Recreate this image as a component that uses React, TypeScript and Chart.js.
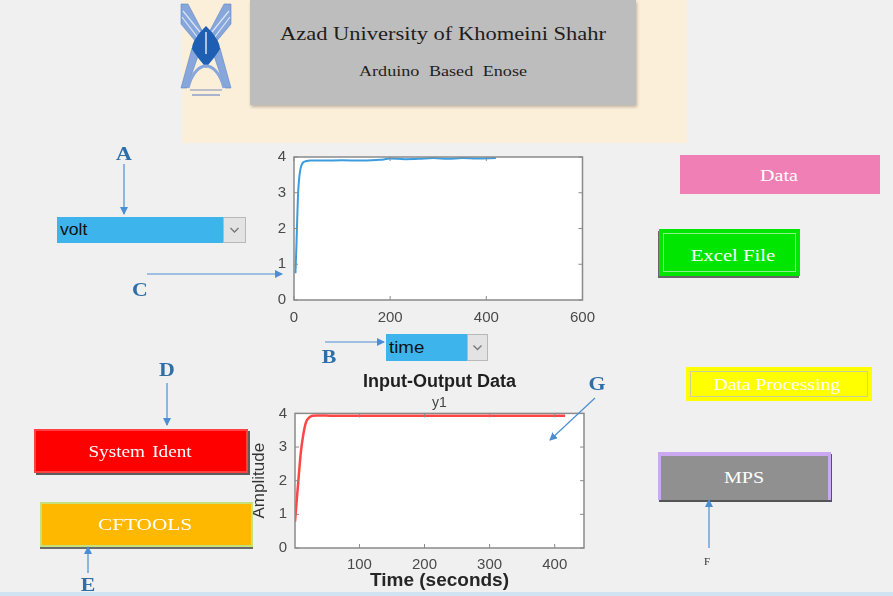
import React, { useEffect, useRef } from "react";
import { Chart, registerables } from "chart.js";

Chart.register(...registerables);

// ---- data ----
const VOLT_TIME = [3, 5, 7, 9, 12, 15, 19, 24, 35, 60, 100, 140, 180, 200, 230, 260, 290, 320, 350, 380, 420];
const VOLT_VALUES = [0.75, 1.5, 2.4, 3.1, 3.55, 3.75, 3.85, 3.88, 3.9, 3.9, 3.91, 3.9, 3.92, 3.96, 3.94, 3.95, 3.97, 3.95, 3.97, 3.96, 3.97];
const VOLT_X_TICKS = [0, 200, 400, 600];
const Y_TICKS = [0, 1, 2, 3, 4];

const IO_TIME = [1, 4, 7, 10, 14, 18, 23, 28, 35, 60, 100, 200, 300, 400, 416];
const IO_Y1 = [0.78, 1.5, 2.2, 2.85, 3.4, 3.74, 3.88, 3.93, 3.94, 3.93, 3.93, 3.93, 3.93, 3.93, 3.93];
const IO_X_TICKS = [100, 200, 300, 400];

const FONT = "'Liberation Sans', Arial, Helvetica, sans-serif";
const SERIF = "'Liberation Serif', 'Times New Roman', serif";
const TICK_COLOR = "#4a4a4a";

const boxPlugin = {
  id: "matlabBox",
  beforeDatasetsDraw(chart: any) {
    const { ctx, chartArea: a } = chart;
    ctx.save();
    ctx.fillStyle = "#ffffff";
    ctx.fillRect(a.left, a.top, a.right - a.left, a.bottom - a.top);
    ctx.restore();
  },
  afterDatasetsDraw(chart: any) {
    const { ctx, chartArea: a, scales } = chart;
    ctx.save();
    ctx.strokeStyle = "#8a8a8a";
    ctx.lineWidth = 1.5;
    ctx.strokeRect(a.left, a.top, a.right - a.left, a.bottom - a.top);
    ctx.lineWidth = 1;
    const L = 4;
    ctx.beginPath();
    scales.x.ticks.forEach((t: any) => {
      const x = scales.x.getPixelForValue(t.value);
      ctx.moveTo(x, a.bottom);
      ctx.lineTo(x, a.bottom - L);
      ctx.moveTo(x, a.top);
      ctx.lineTo(x, a.top + L);
    });
    scales.y.ticks.forEach((t: any) => {
      const y = scales.y.getPixelForValue(t.value);
      ctx.moveTo(a.left, y);
      ctx.lineTo(a.left + L, y);
      ctx.moveTo(a.right, y);
      ctx.lineTo(a.right - L, y);
    });
    ctx.stroke();
    ctx.restore();
  },
};

function axisBase(ticks: number[], min: number, max: number, pad: number, fit: (s: any) => void) {
  return {
    type: "linear" as const,
    min,
    max,
    afterBuildTicks: (s: any) => {
      s.ticks = ticks.map((v) => ({ value: v }));
    },
    afterFit: fit,
    grid: { display: false, drawTicks: false, tickLength: 0 },
    border: { display: false },
    ticks: { padding: pad, font: { size: 15, family: FONT }, color: TICK_COLOR, maxRotation: 0, autoSkip: false },
  };
}

function VoltChart() {
  const ref = useRef<HTMLCanvasElement>(null);
  useEffect(() => {
    const chart = new Chart(ref.current as HTMLCanvasElement, {
      type: "line",
      data: {
        datasets: [
          {
            data: VOLT_TIME.map((t, i) => ({ x: t, y: VOLT_VALUES[i] })),
            borderColor: "#3d9ddc",
            borderWidth: 2,
            pointRadius: 0,
            cubicInterpolationMode: "monotone",
            fill: false,
          },
        ],
      },
      options: {
        animation: false,
        responsive: false,
        maintainAspectRatio: false,
        devicePixelRatio: 1,
        layout: { padding: { top: 15, right: 19, left: 0, bottom: 0 } },
        plugins: { legend: { display: false }, tooltip: { enabled: false } },
        scales: {
          x: axisBase(VOLT_X_TICKS, 0, 600, 9, (s: any) => { s.height = 30; }),
          y: axisBase(Y_TICKS, 0, 4, 8, (s: any) => { s.width = 30; }),
        },
      } as any,
      plugins: [boxPlugin],
    });
    return () => chart.destroy();
  }, []);
  return (
    <canvas ref={ref} width={340} height={190} style={{ position: "absolute", left: 264, top: 140, width: 340, height: 190 }} />
  );
}

function IOChart() {
  const ref = useRef<HTMLCanvasElement>(null);
  useEffect(() => {
    const x: any = axisBase(IO_X_TICKS, 1, 445, 8, (s: any) => { s.height = 48; });
    x.title = { display: true, text: "Time (seconds)", font: { size: 19, weight: "bold", family: FONT }, color: "#262626", padding: { top: 0, bottom: 4 } };
    const y: any = axisBase(Y_TICKS, 0, 4, 8, (s: any) => { s.width = 50; });
    y.title = { display: true, text: "Amplitude", font: { size: 17, family: FONT }, color: "#333333", padding: { top: 4, bottom: 0 } };
    const chart = new Chart(ref.current as HTMLCanvasElement, {
      type: "line",
      data: {
        datasets: [
          {
            data: IO_TIME.map((t, i) => ({ x: t, y: IO_Y1[i] })),
            borderColor: "#ff4646",
            borderWidth: 2.5,
            pointRadius: 0,
            cubicInterpolationMode: "monotone",
            fill: false,
          },
        ],
      },
      options: {
        animation: false,
        responsive: false,
        maintainAspectRatio: false,
        devicePixelRatio: 1,
        layout: { padding: { top: 0, right: 11, left: 0, bottom: 0 } },
        plugins: {
          legend: { display: false },
          tooltip: { enabled: false },
          title: {
            display: true,
            text: "Input-Output Data",
            fullSize: false,
            font: { size: 18, weight: "bold", family: FONT },
            color: "#1f1f1f",
            padding: { top: 3, bottom: 2 },
          },
          subtitle: {
            display: true,
            text: "y1",
            fullSize: false,
            font: { size: 14, family: FONT },
            color: "#444444",
            padding: { top: 0, bottom: 2 },
          },
        },
        scales: { x, y },
      } as any,
      plugins: [boxPlugin],
    });
    return () => chart.destroy();
  }, []);
  return (
    <canvas ref={ref} width={350} height={228} style={{ position: "absolute", left: 245, top: 368, width: 350, height: 228 }} />
  );
}

function Label(props: { x: number; y: number; text: string; size?: number; color?: string; bold?: boolean; sx?: number; family?: string; spacing?: string }) {
  const { x, y, text, size = 16, color = "#fff", bold = false, sx = 1.2, family = SERIF, spacing } = props;
  return (
    <div
      style={{
        position: "absolute",
        left: x,
        top: y,
        transform: `translate(-50%, -50%) scaleX(${sx})`,
        whiteSpace: "nowrap",
        fontFamily: family,
        fontSize: size,
        fontWeight: bold ? "bold" : "normal",
        color,
        lineHeight: 1,
        wordSpacing: spacing,
      }}
    >
      {text}
    </div>
  );
}

function Box(props: { l: number; t: number; w: number; h: number; style?: React.CSSProperties; children?: React.ReactNode }) {
  return (
    <div style={{ position: "absolute", left: props.l, top: props.t, width: props.w, height: props.h, boxSizing: "border-box", ...props.style }}>
      {props.children}
    </div>
  );
}

function Dropdown(props: { l: number; t: number; blueW: number; w: number; h: number; text: string; size: number }) {
  const { l, t, blueW, w, h, text, size } = props;
  return (
    <>
      <Box l={l} t={t} w={blueW} h={h} style={{ background: "#3db5ec" }}>
        <div style={{ position: "absolute", left: 3, top: 0, height: h, lineHeight: `${h}px`, fontFamily: FONT, fontSize: size, color: "#111", transform: "scaleX(1.1)", transformOrigin: "left" }}>
          {text}
        </div>
      </Box>
      <Box l={l + blueW} t={t} w={w - blueW} h={h} style={{ background: "#e3e3e3", border: "1px solid #b8b8b8" }}>
        <svg width={w - blueW - 2} height={h - 2} style={{ position: "absolute", left: 0, top: 0 }}>
          <polyline
            points={`${(w - blueW) / 2 - 5},${h / 2 - 3} ${(w - blueW) / 2 - 1},${h / 2 + 1} ${(w - blueW) / 2 + 3},${h / 2 - 3}`}
            fill="none"
            stroke="#777"
            strokeWidth={1.3}
          />
        </svg>
      </Box>
    </>
  );
}

function Logo() {
  return (
    <svg width={56} height={100} viewBox="0 0 56 100" style={{ position: "absolute", left: 178, top: 2 }}>
      <g fill="#86a6dc" stroke="#5f86c8" strokeWidth={0.6}>
        <polygon points="3,2 10,2 28,36 28,52 3,22" />
        <polygon points="53,2 46,2 28,36 28,52 53,22" />
        <polygon points="14,46 20,54 9,86 3,86" />
        <polygon points="42,46 36,54 47,86 53,86" />
      </g>
      <g stroke="#dce6f6" strokeWidth={1.2}>
        <line x1={5} y1={9} x2={22} y2={30} />
        <line x1={4} y1={15} x2={20} y2={36} />
        <line x1={51} y1={9} x2={34} y2={30} />
        <line x1={52} y1={15} x2={36} y2={36} />
      </g>
      <path d="M28,24 C36,32 42,40 42,47 C38,54 32,60 28,66 C24,60 18,54 14,47 C14,40 20,32 28,24 Z" fill="#1e5fb3" />
      <line x1={28} y1={30} x2={28} y2={52} stroke="#d8e4f5" strokeWidth={1.5} />
      <path d="M10,86 C14,70 22,64 28,64 C34,64 42,70 46,86" fill="none" stroke="#86a6dc" strokeWidth={3} />
      <line x1={12} y1={88} x2={44} y2={88} stroke="#7a8fb8" strokeWidth={1} />
      <line x1={14} y1={93} x2={42} y2={93} stroke="#8aa0c8" strokeWidth={1.5} />
    </svg>
  );
}

function Arrows() {
  const c = "#4a8fd4";
  const lines = [
    [124, 164, 124, 214],
    [147, 274, 282, 274],
    [325, 342, 384, 342],
    [167, 383, 167, 425],
    [88, 573, 88, 547],
    [595, 398, 550, 440],
    [709, 548, 709, 500],
  ];
  return (
    <svg width={893} height={596} style={{ position: "absolute", left: 0, top: 0, pointerEvents: "none" }}>
      <defs>
        <marker id="ah" markerWidth={8} markerHeight={8} refX={7} refY={4} orient="auto" markerUnits="userSpaceOnUse">
          <path d="M0,0 L8,4 L0,8 Z" fill={c} />
        </marker>
      </defs>
      {lines.map((l, i) => (
        <line key={i} x1={l[0]} y1={l[1]} x2={l[2]} y2={l[3]} stroke={c} strokeWidth={1.2} markerEnd="url(#ah)" />
      ))}
    </svg>
  );
}

export default function App() {
  const letter = (x: number, y: number, t: string) => <Label x={x} y={y} text={t} size={19} color="#2f6fa9" bold sx={1.15} />;
  return (
    <div style={{ position: "absolute", left: 0, top: 0, width: 893, height: 596, background: "#f0f0f0", overflow: "hidden" }}>
      {/* header */}
      <Box l={182} t={0} w={505} h={143} style={{ background: "#fcefd9" }} />
      <Box l={250} t={0} w={386} h={105} style={{ background: "#bdbdbd", boxShadow: "1px 2px 3px rgba(0,0,0,0.25)" }} />
      <Label x={443} y={34} text="Azad University of Khomeini Shahr" size={18} color="#1e1e1e" sx={1.25} />
      <Label x={443} y={71} text="Arduino Based Enose" size={14.5} color="#1e1e1e" sx={1.25} spacing="4px" />
      <Logo />

      <VoltChart />
      <IOChart />

      <Dropdown l={57} t={217} blueW={166} w={189} h={26} text="volt" size={16} />
      <Dropdown l={386} t={334} blueW={81} w={102} h={27} text="time" size={17} />

      {/* left buttons */}
      <Box l={34} t={429} w={214} h={44} style={{ background: "#ff0000", boxShadow: "2px 2px 0 #5c5c5c, inset 0 0 0 2px rgba(255,255,255,0.25)" }} />
      <Label x={140} y={452} text="System Ident" size={16} sx={1.2} spacing="2px" />
      <Box l={40} t={502} w={213} h={45} style={{ background: "#ffb800", border: "2px solid #c6e07c", boxShadow: "0 2px 0 #6a6a6a" }} />
      <Label x={145} y={524} text="CFTOOLS" size={17} sx={1.25} />

      {/* right buttons */}
      <Box l={680} t={155} w={200} h={39} style={{ background: "#ef7fb5" }} />
      <Label x={779} y={176} text="Data" size={16} sx={1.25} />
      <Box l={659} t={229} w={141} h={47} style={{ background: "#00e600", boxShadow: "-1px 2px 0 #666, inset 0 0 0 4px #00e600, inset 0 0 0 5px #8ef08e" }} />
      <Label x={733} y={255} text="Excel File" size={17} sx={1.22} />
      <Box l={686} t={367} w={186} h={34} style={{ background: "#ffff00", boxShadow: "inset 0 0 0 4px #ffff00, inset 0 0 0 5px #cfcf9a" }} />
      <Label x={777} y={385} text="Data Processing" size={16} sx={1.22} />
      <Box l={658} t={452} w={173} h={48} style={{ background: "#909090", borderTop: "4px solid #cba9f2", borderLeft: "3px solid #cba9f2", borderRight: "3px solid #cba9f2", boxShadow: "1px 2px 0 #555" }} />
      <Label x={744} y={478} text="MPS" size={16} sx={1.25} />

      {/* bottom strip */}
      <Box l={0} t={592} w={893} h={4} style={{ background: "#cfe3f2" }} />

      <Arrows />
      {letter(124, 153, "A")}
      {letter(140, 289, "C")}
      {letter(329, 356, "B")}
      {letter(167, 369, "D")}
      {letter(88, 584, "E")}
      {letter(597, 383, "G")}
      <Label x={707} y={562} text="F" size={10} color="#333" sx={1.1} />
    </div>
  );
}
